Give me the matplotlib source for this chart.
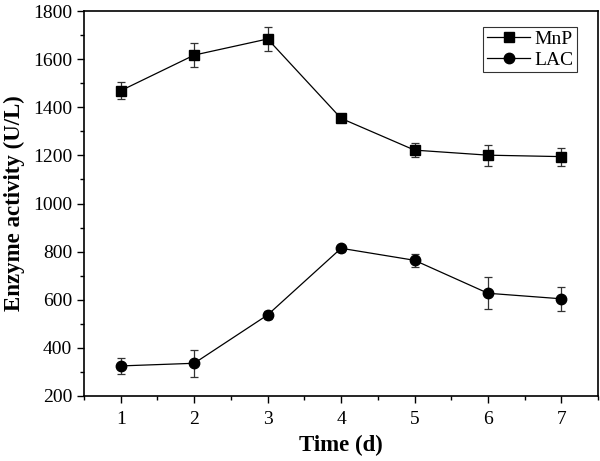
import matplotlib.pyplot as plt
from matplotlib.lines import Line2D
from matplotlib.ticker import MultipleLocator

plt.rcParams['font.family'] = 'Liberation Serif'

days = [1, 2, 3, 4, 5, 6, 7]
mnp = [1469, 1617, 1684, 1354, 1222, 1201, 1195]
mnp_err = [36, 50, 49, 10, 30, 43, 37]
lac = [325, 336, 537, 814, 764, 627, 604]
lac_err = [35, 56, 15, 15, 26, 66, 50]

fig = plt.figure(figsize=(6, 4.61), dpi=100)
ax = fig.add_axes([0.14, 0.141, 0.857, 0.835])

ax.errorbar(days, mnp, yerr=mnp_err, color='black', marker='s', markersize=7,
            linewidth=0.9, ecolor='#333333', elinewidth=0.9, capsize=3, capthick=0.9)
ax.errorbar(days, lac, yerr=lac_err, color='black', marker='o', markersize=7.5,
            linewidth=0.9, ecolor='#333333', elinewidth=0.9, capsize=3, capthick=0.9)

ax.set_xlim(0.5, 7.5)
ax.set_ylim(200, 1800)
ax.xaxis.set_major_locator(MultipleLocator(1))
ax.xaxis.set_minor_locator(MultipleLocator(0.5))
ax.yaxis.set_major_locator(MultipleLocator(200))
ax.yaxis.set_minor_locator(MultipleLocator(100))
ax.tick_params(which='major', direction='out', length=5, width=1, labelsize=14,
               top=False, right=False)
ax.tick_params(axis='x', which='major', pad=6)
ax.tick_params(which='minor', direction='out', length=3, width=1)
for s in ax.spines.values():
    s.set_linewidth(1.2)

ax.set_xlabel('Time (d)', fontsize=16.5, fontweight='bold', labelpad=5)
ax.set_ylabel('Enzyme activity (U/L)', fontsize=16.5, fontweight='bold', labelpad=6)

handles = [Line2D([], [], color='black', marker='s', markersize=7, linewidth=0.9),
           Line2D([], [], color='black', marker='o', markersize=7.5, linewidth=0.9)]
leg = ax.legend(handles, ['MnP', 'LAC'], loc='upper right', fontsize=14,
                fancybox=False, edgecolor='black', handlelength=2.2,
                handletextpad=0.2, borderpad=0.2, labelspacing=0.15,
                borderaxespad=0.3, bbox_to_anchor=(0.97, 0.975))
leg.get_frame().set_linewidth(0.8)

fig.savefig('out.png', dpi=100)
